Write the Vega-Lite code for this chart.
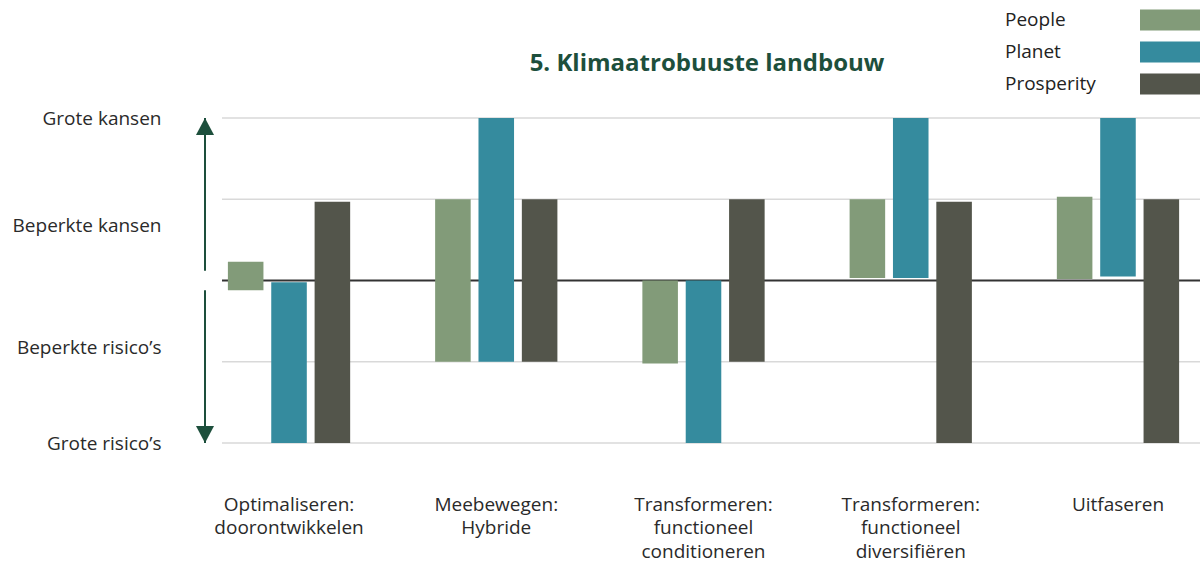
{
  "$schema": "https://vega.github.io/schema/vega-lite/v6.json",
  "width": 978,
  "height": 325,
  "autosize": {"type": "none"},
  "padding": {"left": 222, "top": 118, "right": 0, "bottom": 119},
  "title": {
    "text": "5. Klimaatrobuuste landbouw",
    "font": "Open Sans",
    "fontSize": 24,
    "fontWeight": "bold",
    "color": "#1d4f3c",
    "offset": -66,
    "anchor": "middle",
    "dx": -4
  },
  "config": {"view": {"stroke": null}, "font": "Open Sans"},
  "encoding": {
    "y": {
      "field": "boven",
      "type": "quantitative",
      "scale": {"domain": [-2, 2], "nice": false, "zero": false},
      "axis": {
        "title": null,
        "values": [2, 0.68, -0.82, -2],
        "labelExpr": "datum.value > 1.5 ? 'Grote kansen' : datum.value > 0 ? 'Beperkte kansen' : datum.value > -1.5 ? 'Beperkte risico’s' : 'Grote risico’s'",
        "grid": false,
        "domain": false,
        "ticks": false,
        "labelFlush": false,
        "labelPadding": 61,
        "labelFontSize": 19,
        "labelFont": "Open Sans",
        "labelColor": "#2a2a2a"
      }
    }
  },
  "layer": [
    {
      "data": {"values": [{"boven": 2}, {"boven": 1}, {"boven": -1}, {"boven": -2}]},
      "mark": {"type": "rule", "color": "#d9d9d9", "strokeWidth": 1.5},
      "encoding": {}
    },
    {
      "data": {"values": [{"boven": 0}]},
      "mark": {"type": "rule", "color": "#333333", "strokeWidth": 2},
      "encoding": {}
    },
    {
      "data": {"values": [
        {"strategie": "Optimaliseren:|doorontwikkelen", "dimensie": "People", "boven": 0.23, "onder": -0.12},
        {"strategie": "Optimaliseren:|doorontwikkelen", "dimensie": "Planet", "boven": -0.02, "onder": -2},
        {"strategie": "Optimaliseren:|doorontwikkelen", "dimensie": "Prosperity", "boven": 0.97, "onder": -2},
        {"strategie": "Meebewegen:|Hybride", "dimensie": "People", "boven": 1, "onder": -1},
        {"strategie": "Meebewegen:|Hybride", "dimensie": "Planet", "boven": 2, "onder": -1},
        {"strategie": "Meebewegen:|Hybride", "dimensie": "Prosperity", "boven": 1, "onder": -1},
        {"strategie": "Transformeren:|functioneel|conditioneren", "dimensie": "People", "boven": 0, "onder": -1.02},
        {"strategie": "Transformeren:|functioneel|conditioneren", "dimensie": "Planet", "boven": 0, "onder": -2},
        {"strategie": "Transformeren:|functioneel|conditioneren", "dimensie": "Prosperity", "boven": 1, "onder": -1},
        {"strategie": "Transformeren:|functioneel|diversifiëren", "dimensie": "People", "boven": 1, "onder": 0.03},
        {"strategie": "Transformeren:|functioneel|diversifiëren", "dimensie": "Planet", "boven": 2, "onder": 0.03},
        {"strategie": "Transformeren:|functioneel|diversifiëren", "dimensie": "Prosperity", "boven": 0.97, "onder": -2},
        {"strategie": "Uitfaseren", "dimensie": "People", "boven": 1.03, "onder": 0.02},
        {"strategie": "Uitfaseren", "dimensie": "Planet", "boven": 2, "onder": 0.05},
        {"strategie": "Uitfaseren", "dimensie": "Prosperity", "boven": 1, "onder": -2}
      ]},
      "mark": {"type": "bar"},
      "encoding": {
        "x": {
          "field": "strategie",
          "type": "nominal",
          "sort": null,
          "scale": {"paddingInner": 0.41, "paddingOuter": 0.0646, "align": 0.22},
          "axis": {
            "title": null,
            "labelExpr": "split(datum.label, '|')",
            "labelAngle": 0,
            "domain": false,
            "ticks": false,
            "labelPadding": 52,
            "labelBaseline": "top",
            "labelLineHeight": 23.5,
            "labelFontSize": 19,
            "labelFont": "Open Sans",
            "labelColor": "#2a2a2a",
            "labelLimit": 300
          }
        },
        "xOffset": {
          "field": "dimensie",
          "type": "nominal",
          "sort": ["People", "Planet", "Prosperity"],
          "scale": {"paddingInner": 0.18, "paddingOuter": 0}
        },
        "y2": {"field": "onder"},
        "color": {
          "field": "dimensie",
          "type": "nominal",
          "sort": ["People", "Planet", "Prosperity"],
          "scale": {"domain": ["People", "Planet", "Prosperity"], "range": ["#829b79", "#358b9e", "#53554b"]},
          "legend": {
            "title": null,
            "orient": "none",
            "legendX": 948,
            "legendY": -108,
            "padding": 0,
            "rowPadding": 10,
            "symbolType": "M-4,-1.05H4V1.05H-4Z",
            "symbolSize": 400,
            "symbolStrokeWidth": 0,
            "symbolOpacity": 1,
            "labelOffset": -185,
            "labelFontSize": 19,
            "labelFont": "Open Sans",
            "labelColor": "#222222"
          }
        }
      }
    },
    {
      "data": {"values": [{"boven": 2, "onder": 0.12}, {"boven": -0.12, "onder": -2}]},
      "mark": {"type": "rule", "color": "#1d4f3c", "strokeWidth": 2},
      "encoding": {"x": {"value": -17}, "y2": {"field": "onder"}}
    },
    {
      "data": {"values": [{"boven": 2}]},
      "mark": {"type": "point", "shape": "M0,0L0.5,0.95L-0.5,0.95Z", "size": 1296, "filled": true, "opacity": 1, "color": "#1d4f3c", "strokeWidth": 0},
      "encoding": {"x": {"value": -17}}
    },
    {
      "data": {"values": [{"boven": -2}]},
      "mark": {"type": "point", "shape": "M0,0L0.5,-0.95L-0.5,-0.95Z", "size": 1296, "filled": true, "opacity": 1, "color": "#1d4f3c", "strokeWidth": 0},
      "encoding": {"x": {"value": -17}}
    }
  ]
}
